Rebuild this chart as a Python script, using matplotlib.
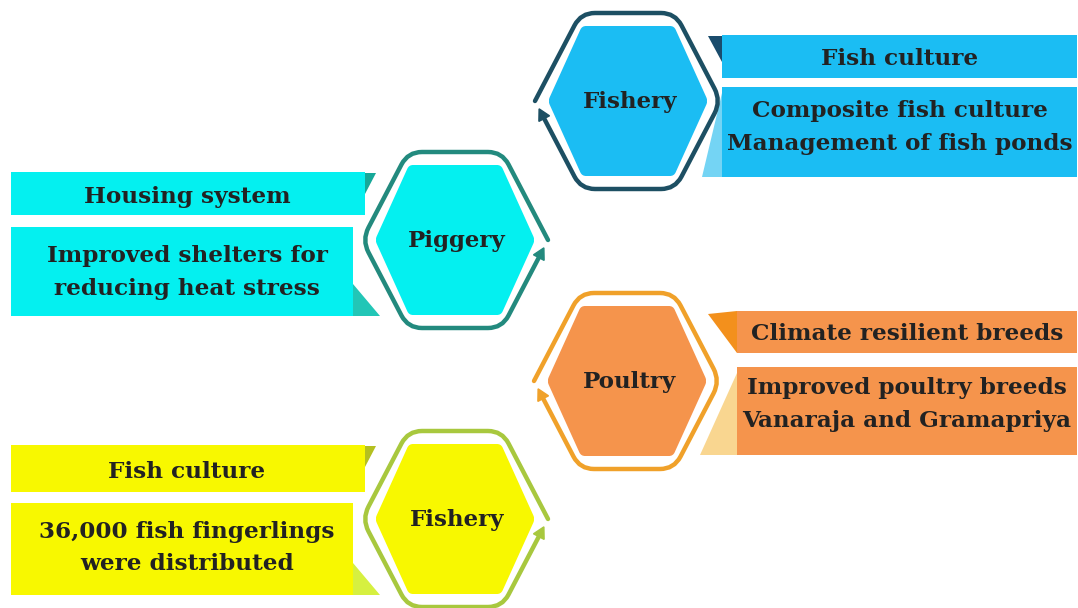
import numpy as np
import matplotlib
matplotlib.use("Agg")
import matplotlib.pyplot as plt
from matplotlib.path import Path
from matplotlib.patches import PathPatch, Polygon, Rectangle

# hexagon nodes: label, centre (px), fill, ring colour, side of arrow gap
node_labels = ["Fishery", "Piggery", "Poultry", "Fishery"]
node_centres = [(628, 101), (455, 240), (627, 381), (455, 519)]
node_fills = ["#1bbdf3", "#04f0f0", "#f5944c", "#f8f800"]
ring_colors = ["#1d4f63", "#238a7e", "#f0a12a", "#a8c83e"]
gap_side = ["left", "right", "left", "right"]

# text boxes for each node: (title, detail lines)
box_titles = ["Fish culture", "Housing system", "Climate resilient breeds", "Fish culture"]
box_details = [
    ["Composite fish culture", "Management of fish ponds"],
    ["Improved shelters for", "reducing heat stress"],
    ["Improved poultry breeds", "Vanaraja and Gramapriya"],
    ["36,000 fish fingerlings", "were distributed"],
]
title_shade = ["#1a4c6c", "#17a898", "#f3901c", "#b4c020"]
detail_shade = ["#74d4f4", "#22c6b6", "#f9d690", "#d6f040"]

# box geometry (px): left edge, title top/bottom, detail top/bottom
box_left = [722, 11, 737, 11]
title_rows = [(35, 78), (172, 215), (311, 353), (445, 492)]
detail_rows = [(87, 177), (227, 316), (367, 455), (503, 595)]
title_base = [65, 203, 340, 478]
detail_base = [(117, 150), (262, 295), (394, 427), (538, 570)]
shade_reach = [20, 27, 37, 27]

W, H = 1078, 608
fig = plt.figure(figsize=(W / 100, H / 100), dpi=100)
ax = fig.add_axes([0, 0, 1, 1])
ax.set_xlim(0, W)
ax.set_ylim(H, 0)
ax.axis("off")

FONT = "DejaVu Serif"
TXT = "#222222"


def hex_pts(cx, cy, w, h, t):
    return [(cx - w, cy), (cx - t, cy - h), (cx + t, cy - h),
            (cx + w, cy), (cx + t, cy + h), (cx - t, cy + h)]


def rounded_path(pts, r, closed=True):
    n = len(pts)
    verts, codes = [], []
    rng = range(n) if closed else range(1, n - 1)
    if not closed:
        verts.append(pts[0]); codes.append(Path.MOVETO)
    for k, i in enumerate(rng):
        p = np.array(pts[i], float)
        a = np.array(pts[i - 1], float)
        b = np.array(pts[(i + 1) % n], float)
        u1 = (a - p) / np.linalg.norm(a - p)
        u2 = (b - p) / np.linalg.norm(b - p)
        p1 = p + u1 * r
        p2 = p + u2 * r
        if closed and k == 0:
            verts.append(tuple(p1)); codes.append(Path.MOVETO)
        else:
            verts.append(tuple(p1)); codes.append(Path.LINETO)
        verts += [tuple(p), tuple(p2)]
        codes += [Path.CURVE3, Path.CURVE3]
    if closed:
        verts.append(verts[0]); codes.append(Path.CLOSEPOLY)
    else:
        verts.append(pts[-1]); codes.append(Path.LINETO)
    return Path(verts, codes)


def draw_ring(cx, cy, color, side):
    pts = hex_pts(cx, cy, 93, 88, 47)
    if side == "left":
        order = [0, 1, 2, 3, 4, 5]
    else:
        order = [3, 2, 1, 0, 5, 4]
    seq = [pts[i] for i in order]
    start = np.array(seq[0])
    last = np.array(seq[-1])
    end = last + (start - last) * 0.80
    line_pts = seq + [tuple(end)]
    path = rounded_path(line_pts, 14, closed=False)
    ax.add_patch(PathPatch(path, fill=False, edgecolor=color, lw=3.2,
                           capstyle="round", joinstyle="round", zorder=3))
    d = (start - last) / np.linalg.norm(start - last)
    nrm = np.array([-d[1], d[0]])
    tip = end + d * 11
    head = [tuple(tip), tuple(end + nrm * 6), tuple(end - nrm * 6)]
    ax.add_patch(Polygon(head, closed=True, color=color, zorder=4))


def draw_node(i):
    cx, cy = node_centres[i]
    draw_ring(cx, cy, ring_colors[i], gap_side[i])
    inner = hex_pts(cx, cy, 80, 75, 46)
    ax.add_patch(PathPatch(rounded_path(inner, 4), facecolor=node_fills[i],
                           edgecolor="none", zorder=2))
    ax.text(cx + 2, cy + 7, node_labels[i], ha="center", va="baseline",
            fontsize=16.5, fontweight="bold", family=FONT, color=TXT, zorder=5)


def draw_boxes(i):
    fill = node_fills[i]
    x0 = box_left[i]
    ty0, ty1 = title_rows[i]
    dy0, dy1 = detail_rows[i]
    reach = shade_reach[i]
    if gap_side[i] == "left":
        # boxes to the right of the hexagon
        x1 = x1d = 1077
        tri_t = [(x0 - 14, ty0 + 1), (x0, ty0 + 1), (x0, ty0 + 27)]
        if i == 2:
            tri_t = [(x0 - 29, ty0 + 3), (x0, ty0), (x0, ty1)]
        tri_d = [(x0, dy0 + 6), (x0 - reach, dy1), (x0, dy1)]
        tx = (x0 + x1) / 2
    else:
        x1 = 365
        x1d = x1 - 12
        tri_t = [(x1, ty0 + 1), (x1 + 11, ty0 + 1), (x1, ty0 + 22)]
        tri_d = [(x1d, dy1 - 32), (x1d + reach, dy1), (x1d, dy1)]
        tx = 187
    ax.add_patch(Polygon(tri_t, closed=True, color=title_shade[i], lw=0, zorder=1))
    ax.add_patch(Polygon(tri_d, closed=True, color=detail_shade[i], lw=0, zorder=1))
    ax.add_patch(Rectangle((x0, ty0), x1 - x0, ty1 - ty0, color=fill, lw=0, zorder=1))
    ax.add_patch(Rectangle((x0, dy0), x1d - x0, dy1 - dy0, color=fill, lw=0, zorder=1))
    ax.text(tx, title_base[i], box_titles[i], ha="center", va="baseline",
            fontsize=16.7, fontweight="bold", family=FONT, color=TXT, zorder=5)
    for yb, line in zip(detail_base[i], box_details[i]):
        ax.text(tx, yb, line, ha="center", va="baseline",
                fontsize=16.7, fontweight="bold", family=FONT, color=TXT, zorder=5)


for i in range(len(node_labels)):
    draw_boxes(i)
    draw_node(i)

fig.savefig("out.png", dpi=100, facecolor="white")
